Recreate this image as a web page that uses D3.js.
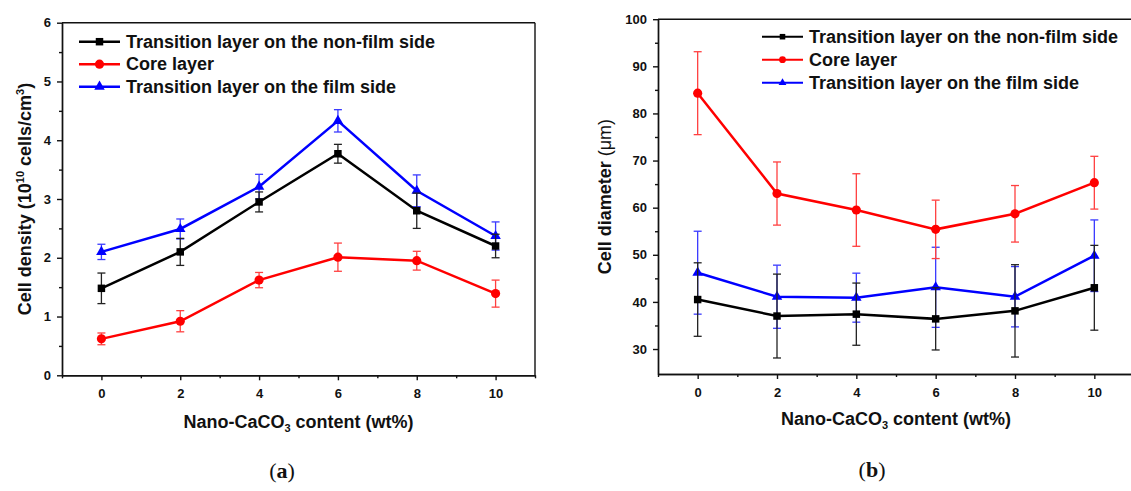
<!DOCTYPE html>
<html lang="en">
<head>
<meta charset="utf-8">
<title>Cell density and cell diameter vs nano-CaCO3 content</title>
<style>
  body { margin: 0; background: #fff; }
  svg { display: block; font-family: "Liberation Sans", Arial, sans-serif; }
  .axis path, .axis line { stroke: #111; stroke-width: 1.4; }
  .axis text { font-size: 13px; font-weight: bold; fill: #111; font-family: "Liberation Sans", Arial, sans-serif; }
  .frame { stroke: #111; stroke-width: 1.4; }
  .title { font-size: 18px; font-weight: bold; fill: #111; }
  .legend text { font-size: 18px; font-weight: bold; fill: #111; }
  .caption { font-family: "Liberation Serif", "DejaVu Serif", serif; font-size: 22px; fill: #111; }
</style>
</head>
<body>
<script src="https://cdn.jsdelivr.net/npm/d3@7"></script>
<script>
// nano-CaCO3 content (wt%)
var contents = [0, 2, 4, 6, 8, 10];
var minorContents = [-1, 1, 3, 5, 7, 9, 11];
var seriesNames = ["Transition layer on the non-film side", "Core layer", "Transition layer on the film side"];

// (a) cell density, 10^10 cells/cm3
var densityNonFilm    = [1.48, 2.10, 2.95, 3.77, 2.80, 2.20];
var densityNonFilmErr = [0.26, 0.23, 0.17, 0.16, 0.30, 0.20];
var densityCore       = [0.62, 0.92, 1.62, 2.01, 1.95, 1.39];
var densityCoreErr    = [0.10, 0.18, 0.13, 0.24, 0.16, 0.23];
var densityFilm       = [2.10, 2.49, 3.21, 4.33, 3.14, 2.37];
var densityFilmErr    = [0.13, 0.17, 0.21, 0.19, 0.27, 0.24];
var densityTicks      = [0, 1, 2, 3, 4, 5, 6];
var densityMinor      = [0.5, 1.5, 2.5, 3.5, 4.5, 5.5];

// (b) cell diameter, um
var diameterNonFilm    = [40.5, 37.0, 37.4, 36.4, 38.1, 43.0];
var diameterNonFilmErr = [7.8, 8.9, 6.6, 6.6, 9.8, 9.0];
var diameterCore       = [84.3, 63.0, 59.5, 55.4, 58.7, 65.3];
var diameterCoreErr    = [8.8, 6.7, 7.7, 6.2, 6.0, 5.6];
var diameterFilm       = [46.2, 41.1, 40.9, 43.1, 41.1, 49.8];
var diameterFilmErr    = [8.8, 6.7, 5.2, 8.5, 6.4, 7.6];
var diameterTicks      = [30, 40, 50, 60, 70, 80, 90, 100];
var diameterMinor      = [35, 45, 55, 65, 75, 85, 95];

var W = 1131, H = 491;

var svg = d3.select("body").append("svg")
	.attr("width", W)
	.attr("height", H);

// series look: black squares, red circles, blue triangles
var styles = [
	{ color: "#000", err: "#222", symbol: d3.symbolSquare, size: 56 },
	{ color: "#ff0000", err: "#ff4040", symbol: d3.symbolCircle, size: 66 },
	{ color: "#0000ff", err: "#3a3aff", symbol: d3.symbolTriangle, size: 48 }
];

function drawPanel(p)
{
	var x = d3.scaleLinear().domain([-1, 11]).range(p.xRange);
	var y = d3.scaleLinear().domain(p.yDomain).range(p.yRange);
	var g = svg.append("g");

	// frame (top + right)
	g.append("line").attr("class", "frame")
		.attr("x1", x(-1)).attr("x2", x(11)).attr("y1", y.range()[1]).attr("y2", y.range()[1]);
	g.append("line").attr("class", "frame")
		.attr("x1", x(11)).attr("x2", x(11)).attr("y1", y.range()[1]).attr("y2", y.range()[0]);

	// x axis
	g.append("g").attr("class", "axis")
		.attr("transform", "translate(0," + y.range()[0] + ")")
		.call(d3.axisBottom(x).tickValues(contents).tickSize(5).tickSizeOuter(0).tickPadding(8.5).tickFormat(d3.format("d")));
	g.append("g").attr("class", "axis")
		.attr("transform", "translate(0," + y.range()[0] + ")")
		.call(d3.axisBottom(x).tickValues(minorContents).tickSize(3).tickSizeOuter(0).tickFormat(""));

	// y axis
	g.append("g").attr("class", "axis")
		.attr("transform", "translate(" + x(-1) + ",0)")
		.call(d3.axisLeft(y).tickValues(p.yTicks).tickSize(5).tickSizeOuter(0).tickPadding(6).tickFormat(d3.format("d")));
	g.append("g").attr("class", "axis")
		.attr("transform", "translate(" + x(-1) + ",0)")
		.call(d3.axisLeft(y).tickValues(p.yMinor).tickSize(3).tickSizeOuter(0).tickFormat(""));

	var line = d3.line()
		.x(function(d) { return x(d.x); })
		.y(function(d) { return y(d.y); });

	// draw order: film side, core, non-film side
	[2, 1, 0].forEach(function(k)
	{
		var st = styles[k];
		var pts = contents.map(function(c, i) {
			return { x: c, y: p.values[k][i], e: p.errors[k][i] };
		});
		var sg = g.append("g");

		var eb = sg.selectAll("g.err").data(pts).enter().append("g")
			.attr("stroke", st.err).attr("stroke-width", 1.3);
		eb.append("line")
			.attr("x1", function(d) { return x(d.x); })
			.attr("x2", function(d) { return x(d.x); })
			.attr("y1", function(d) { return y(d.y - d.e); })
			.attr("y2", function(d) { return y(d.y + d.e); });
		eb.append("line")
			.attr("x1", function(d) { return x(d.x) - 4; })
			.attr("x2", function(d) { return x(d.x) + 4; })
			.attr("y1", function(d) { return y(d.y + d.e); })
			.attr("y2", function(d) { return y(d.y + d.e); });
		eb.append("line")
			.attr("x1", function(d) { return x(d.x) - 4; })
			.attr("x2", function(d) { return x(d.x) + 4; })
			.attr("y1", function(d) { return y(d.y - d.e); })
			.attr("y2", function(d) { return y(d.y - d.e); });

		sg.append("path").datum(pts)
			.attr("fill", "none")
			.attr("stroke", st.color)
			.attr("stroke-width", 2.5)
			.attr("d", line);

		sg.selectAll("path.mark").data(pts).enter().append("path")
			.attr("class", "mark")
			.attr("fill", st.color)
			.attr("transform", function(d) { return "translate(" + x(d.x) + "," + y(d.y) + ")"; })
			.attr("d", d3.symbol().type(st.symbol).size(st.size));
	});

	// legend
	var lg = g.append("g").attr("class", "legend");
	seriesNames.forEach(function(name, k)
	{
		var st = styles[k];
		var ly = p.legend.y + k * p.legend.dy;
		lg.append("line")
			.attr("x1", p.legend.x).attr("x2", p.legend.x + p.legend.w)
			.attr("y1", ly).attr("y2", ly)
			.attr("stroke", st.color).attr("stroke-width", p.legend.sw);
		lg.append("path")
			.attr("fill", st.color)
			.attr("transform", "translate(" + (p.legend.x + p.legend.w / 2) + "," + ly + ")")
			.attr("d", d3.symbol().type(st.symbol).size(st.size * p.legend.ms));
		lg.append("text")
			.attr("x", p.legend.x + p.legend.w + 6)
			.attr("y", ly + 6)
			.text(name);
	});

	// x title with subscript
	var xt = g.append("text").attr("class", "title")
		.attr("text-anchor", "middle")
		.attr("x", (x(-1) + x(11)) / 2)
		.attr("y", p.xTitleY);
	xt.append("tspan").text("Nano-CaCO");
	xt.append("tspan").attr("dy", 4).attr("font-size", "11px").text("3");
	xt.append("tspan").attr("dy", -4).text(" content (wt%)");

	// y title
	var yt = g.append("text").attr("class", "title")
		.attr("text-anchor", "middle")
		.attr("transform", "translate(" + p.yTitleX + "," + ((y.range()[0] + y.range()[1]) / 2) + ") rotate(-90)");
	p.yTitle(yt);

	// caption
	var cap = g.append("text").attr("class", "caption")
		.attr("text-anchor", "middle")
		.attr("x", p.caption.x).attr("y", p.caption.y);
	cap.append("tspan").text("(");
	cap.append("tspan").attr("font-weight", "bold").text(p.caption.t);
	cap.append("tspan").text(")");
}

drawPanel({
	xRange: [62, 535],
	yDomain: [0, 6],
	yRange: [375.3, 22.7],
	yTicks: densityTicks,
	yMinor: densityMinor,
	values: [densityNonFilm, densityCore, densityFilm],
	errors: [densityNonFilmErr, densityCoreErr, densityFilmErr],
	legend: { x: 79, y: 41.7, dy: 22.5, w: 41, sw: 2.5, ms: 1 },
	xTitleY: 428,
	yTitleX: 31,
	yTitle: function(t) {
		t.append("tspan").text("Cell density (10");
		t.append("tspan").attr("dy", -7).attr("font-size", "11px").text("10");
		t.append("tspan").attr("dy", 7).text(" cells/cm");
		t.append("tspan").attr("dy", -7).attr("font-size", "11px").text("3");
		t.append("tspan").attr("dy", 7).text(")");
	},
	caption: { x: 282, y: 478, t: "a" }
});

drawPanel({
	xRange: [658, 1134],
	yDomain: [24.7, 100],
	yRange: [374, 19.2],
	yTicks: diameterTicks,
	yMinor: diameterMinor,
	values: [diameterNonFilm, diameterCore, diameterFilm],
	errors: [diameterNonFilmErr, diameterCoreErr, diameterFilmErr],
	legend: { x: 762, y: 36.7, dy: 23, w: 41, sw: 2, ms: 0.55 },
	xTitleY: 425,
	yTitleX: 611,
	yTitle: function(t) {
		t.append("tspan").text("Cell diameter ");
		t.append("tspan").attr("font-weight", "normal").text("(\u03bcm)");
	},
	caption: { x: 872, y: 477, t: "b" }
});
</script>
</body>
</html>
